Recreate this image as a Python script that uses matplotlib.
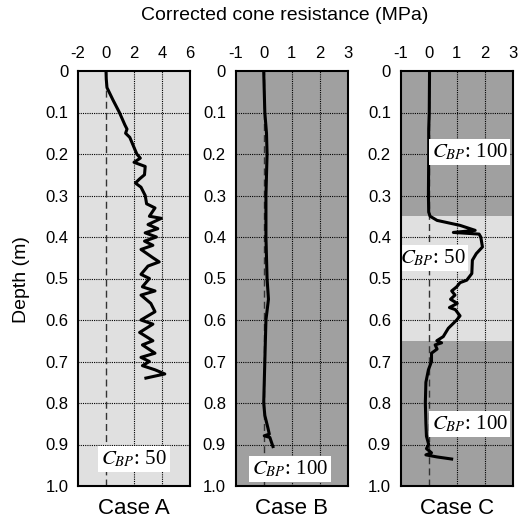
import matplotlib
matplotlib.use("Agg")
import matplotlib.pyplot as plt

plt.rcParams.update({"font.family": ["Liberation Sans", "DejaVu Sans"],
                     "mathtext.fontset": "stix"})

# cone resistance (MPa) vs depth (m)
depth_a = [0.0, 0.02, 0.04, 0.07, 0.10, 0.13, 0.14, 0.15, 0.16, 0.18, 0.20, 0.21, 0.22,
           0.23, 0.25, 0.26, 0.27, 0.28, 0.30, 0.32, 0.33, 0.35, 0.355, 0.37, 0.38, 0.39,
           0.40, 0.41, 0.42, 0.43, 0.45, 0.46, 0.47, 0.49, 0.50, 0.52, 0.53, 0.54, 0.56,
           0.58, 0.60, 0.61, 0.63, 0.65, 0.66, 0.68, 0.69, 0.70, 0.71, 0.72, 0.73, 0.74]
qc_a = [0.0, 0.02, 0.07, 0.5, 0.96, 1.35, 1.5, 1.4, 1.7, 1.95, 2.2, 2.45, 2.0,
        2.8, 2.75, 2.4, 2.1, 2.5, 2.8, 2.9, 3.5, 3.1, 3.95, 3.0, 3.7, 2.8,
        3.6, 2.75, 3.35, 2.5, 3.35, 3.8, 3.0, 2.5, 3.1, 2.6, 3.5, 2.5, 3.2,
        3.5, 2.5, 3.35, 2.4, 3.35, 2.6, 3.5, 2.5, 3.1, 2.6, 3.5, 4.2, 2.85]

depth_b = [0.0, 0.05, 0.10, 0.15, 0.20, 0.30, 0.40, 0.50, 0.55, 0.60, 0.70, 0.80,
           0.83, 0.86, 0.875, 0.879, 0.883, 0.905]
qc_b = [0.0, 0.02, 0.04, 0.10, 0.12, 0.08, 0.08, 0.12, 0.17, 0.08, 0.04, 0.0,
        0.04, 0.15, 0.20, 0.02, 0.22, 0.33]

depth_c = [0.0, 0.10, 0.14, 0.20, 0.30, 0.34, 0.35, 0.36, 0.372, 0.384, 0.389, 0.393,
           0.40, 0.424, 0.44, 0.456, 0.488, 0.504, 0.51, 0.52, 0.53, 0.54, 0.55, 0.56,
           0.57, 0.575, 0.59, 0.60, 0.62, 0.64, 0.65, 0.655, 0.66, 0.67, 0.68, 0.70,
           0.72, 0.75, 0.80, 0.85, 0.88, 0.90, 0.91, 0.92, 0.925, 0.93, 0.935]
qc_c = [0.03, 0.02, 0.0, 0.0, -0.01, 0.0, 0.05, 0.3, 1.12, 1.66, 0.88, 1.8,
        1.86, 1.92, 1.7, 1.56, 1.54, 1.36, 1.12, 1.0, 0.82, 0.94, 0.78, 1.02,
        0.74, 0.95, 1.12, 1.0, 0.7, 0.52, 0.29, 0.46, 0.23, 0.3, 0.1, 0.1,
        -0.01, -0.1, -0.12, -0.1, -0.08, 0.0, -0.08, 0.1, -0.1, 0.3, 0.82]

cases = ["Case A", "Case B", "Case C"]
xlims = [(-2, 6), (-1, 3), (-1, 3)]
xticks = [[-2, 0, 2, 4, 6], [-1, 0, 1, 2, 3], [-1, 0, 1, 2, 3]]
# (top, bottom, colour) soil layers
layers = [[(0.0, 1.0, "light")],
          [(0.0, 1.0, "dark")],
          [(0.0, 0.35, "dark"), (0.35, 0.65, "light"), (0.65, 1.0, "dark")]]
# (x, depth, text) labels
labels = [[(2.0, 0.935, "50")],
          [(0.94, 0.959, "100")],
          [(1.46, 0.195, "100"), (0.15, 0.45, "50"), (1.46, 0.85, "100")]]
series = [(qc_a, depth_a), (qc_b, depth_b), (qc_c, depth_c)]

SHADE = {"light": "#e0e0e0", "dark": "#a0a0a0"}
TICKFONT = ["Liberation Sans Narrow", "Liberation Sans", "DejaVu Sans"]

fig = plt.figure(figsize=(5.31, 5.26), dpi=100)
lefts = [78 / 531, 235.7 / 531, 400.7 / 531]
for i in range(3):
    ax = fig.add_axes([lefts[i], 40 / 526, 112 / 531, 415 / 526])
    for top, bot, c in layers[i]:
        ax.axhspan(top, bot, color=SHADE[c], lw=0, zorder=0)
    for yy in [0.1 * k for k in range(1, 10)]:
        ax.axhline(yy, color="black", ls=(0, (1, 1)), lw=0.8, zorder=1)
    for xx in xticks[i][1:-1]:
        if xx == 0:
            ax.axvline(xx, color="#333333", ls=(0, (5, 3)), lw=1.0, zorder=1)
        else:
            ax.axvline(xx, color="black", ls=(0, (1, 1)), lw=0.8, zorder=1)
    x, d = series[i]
    ax.plot(x, d, color="black", lw=2.2, zorder=3)
    for lx, ly, txt in labels[i]:
        ax.text(lx, ly, r"$C_{BP}$: " + txt, ha="center", va="center", fontsize=15,
                family=["Liberation Serif", "DejaVu Serif"], zorder=4,
                bbox=dict(facecolor="white", edgecolor="none", pad=2))
    ax.set_xlim(*xlims[i])
    ax.set_ylim(1.0, 0.0)
    ax.set_xticks(xticks[i])
    ax.set_xticklabels([str(t) for t in xticks[i]], family=TICKFONT, fontsize=12)
    ax.set_yticks([0.1 * k for k in range(11)])
    ax.set_yticklabels(["0", "0.1", "0.2", "0.3", "0.4", "0.5", "0.6", "0.7", "0.8",
                        "0.9", "1.0"], family=TICKFONT, fontsize=12)
    ax.xaxis.tick_top()
    ax.tick_params(length=0, pad=7)
    for s in ax.spines.values():
        s.set_linewidth(1.5)
        s.set_zorder(5)
    ax.set_xlabel(cases[i], fontsize=16, labelpad=9)

fig.text(285 / 531, 1 - 15 / 526, "Corrected cone resistance (MPa)", ha="center",
         va="center", fontsize=14)
fig.text(22 / 531, 1 - 280 / 526, "Depth (m)", ha="center", va="center",
         rotation=90, fontsize=14)

fig.savefig("out.png", dpi=100)
